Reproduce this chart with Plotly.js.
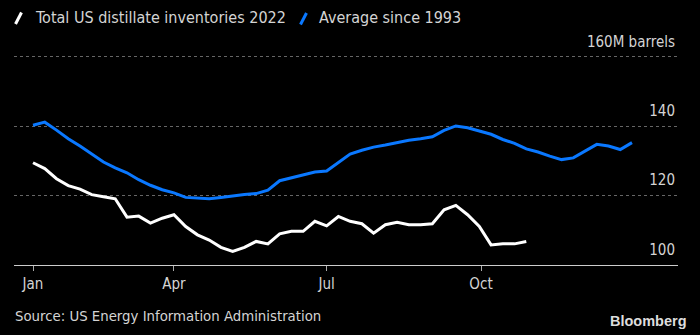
<!DOCTYPE html>
<html>
<head>
<meta charset="utf-8">
<script src="https://cdn.plot.ly/plotly-3.0.1.min.js"></script>
<style>html,body{margin:0;padding:0;background:#000;}#chart{width:700px;height:335px;}</style>
</head>
<body>
<div id="chart"></div>
<script>
// Weekly dates (Fridays, 2022)
const weeks = [
  '2022-01-07','2022-01-14','2022-01-21','2022-01-28',
  '2022-02-04','2022-02-11','2022-02-18','2022-02-25',
  '2022-03-04','2022-03-11','2022-03-18','2022-03-25',
  '2022-04-01','2022-04-08','2022-04-15','2022-04-22','2022-04-29',
  '2022-05-06','2022-05-13','2022-05-20','2022-05-27',
  '2022-06-03','2022-06-10','2022-06-17','2022-06-24',
  '2022-07-01','2022-07-08','2022-07-15','2022-07-22','2022-07-29',
  '2022-08-05','2022-08-12','2022-08-19','2022-08-26',
  '2022-09-02','2022-09-09','2022-09-16','2022-09-23','2022-09-30',
  '2022-10-07','2022-10-14','2022-10-21','2022-10-28',
  '2022-11-04','2022-11-11','2022-11-18','2022-11-25',
  '2022-12-02','2022-12-09','2022-12-16','2022-12-23','2022-12-30'
];
// Total US distillate inventories 2022 (million barrels)
const inventories2022 = [
  129.5,127.8,124.9,122.9,121.9,120.3,119.7,119.1,113.8,114.1,
  112.1,113.5,114.5,111.1,108.7,107.2,105.1,103.9,105.1,106.8,
  106.1,109.0,109.7,109.7,112.6,111.3,114.0,112.6,111.9,109.2,
  111.6,112.3,111.6,111.6,111.9,115.9,117.2,114.5,111.1,105.8,
  106.1,106.1,106.8
];
// Average since 1993 (million barrels)
const average1993 = [
  140.3,141.2,138.9,136.4,134.3,132.1,129.7,128.0,126.6,124.6,
  123.0,121.7,120.8,119.5,119.3,119.1,119.5,120.0,120.3,120.6,
  121.6,124.3,125.1,126.1,126.8,127.1,129.5,132.0,133.1,134.0,
  134.6,135.3,136.0,136.4,137.0,138.8,140.1,139.6,138.6,137.7,
  136.2,135.1,133.5,132.6,131.4,130.4,130.9,132.8,134.8,134.3,
  133.3,135.3
];
const seriesNames = ['Total US distillate inventories 2022', 'Average since 1993'];
const xTickVals = ['2022-01-07','2022-04-01','2022-07-01','2022-10-01'];
const xTickText = ['Jan','Apr','Jul','Oct'];
const yTickVals = [100,120,140,160];
const yTickText = ['100','120','140','160M barrels'];

const FONT = '"DejaVu Sans Condensed", "DejaVu Sans", "Liberation Sans", sans-serif';
const TXT = '#d4d4d4';
const BLUE = '#0a78ff';

const traces = [
  {x: weeks.slice(0, average1993.length), y: average1993, name: seriesNames[1], type: 'scatter', mode: 'lines',
   line: {color: BLUE, width: 3}, showlegend: false, hoverinfo: 'skip'},
  {x: weeks.slice(0, inventories2022.length), y: inventories2022, name: seriesNames[0], type: 'scatter', mode: 'lines',
   line: {color: '#ffffff', width: 3}, showlegend: false, hoverinfo: 'skip'}
];

// plot area spans y=32..265 px; paper y = (265 - px) / 233
const layout = {
  width: 700, height: 335,
  paper_bgcolor: '#000', plot_bgcolor: '#000',
  margin: {l: 14, r: 22, t: 32, b: 70, pad: 0},
  font: {family: FONT, color: TXT, size: 15},
  xaxis: {
    type: 'date',
    range: ['2021-12-26 16:00', '2023-01-26 10:00'],
    tickmode: 'array', tickvals: xTickVals, ticktext: xTickText,
    ticks: 'outside', ticklen: 5, tickwidth: 1, tickcolor: '#aaaaaa',
    showline: true, linecolor: '#cccccc', linewidth: 1,
    showgrid: false, zeroline: false,
    tickfont: {family: FONT, size: 15, color: TXT}
  },
  yaxis: {
    range: [100, 167.2], side: 'right',
    tickmode: 'array', tickvals: yTickVals, ticktext: yTickText,
    ticklabelposition: 'inside top', ticklabelshift: -5,
    ticks: '', showline: false, zeroline: false,
    showgrid: true, gridcolor: '#666666', gridwidth: 1, griddash: 'dot',
    tickfont: {family: FONT, size: 15, color: TXT}
  },
  shapes: [
    {type: 'line', xref: 'paper', yref: 'paper', x0: 0.0023, y0: 1.0343, x1: 0.0113, y1: 1.0837,
     line: {color: '#ffffff', width: 3}},
    {type: 'line', xref: 'paper', yref: 'paper', x0: 0.4315, y0: 1.0322, x1: 0.4405, y1: 1.0815,
     line: {color: BLUE, width: 3}}
  ],
  annotations: [
    {text: seriesNames[0], xref: 'paper', yref: 'paper', x: 0.029, y: 1.0601, xanchor: 'left', yanchor: 'middle',
     showarrow: false, font: {family: FONT, size: 16, color: TXT}},
    {text: seriesNames[1], xref: 'paper', yref: 'paper', x: 0.456, y: 1.0601, xanchor: 'left', yanchor: 'middle',
     showarrow: false, font: {family: FONT, size: 16, color: TXT}},
    {text: 'Source: US Energy Information Administration', xref: 'paper', yref: 'paper', x: -0.002, y: -0.2146,
     xanchor: 'left', yanchor: 'middle', showarrow: false, font: {family: FONT, size: 14.8, color: TXT}},
    {text: '<b>Bloomberg</b>', xref: 'paper', yref: 'paper', x: 1.0166, y: -0.2403, xanchor: 'right', yanchor: 'middle',
     showarrow: false, font: {family: '"Liberation Sans", Arial, sans-serif', size: 14.5, color: '#dddddd'}}
  ]
};

Plotly.newPlot('chart', traces, layout, {staticPlot: true, displayModeBar: false});
</script>
</body>
</html>
